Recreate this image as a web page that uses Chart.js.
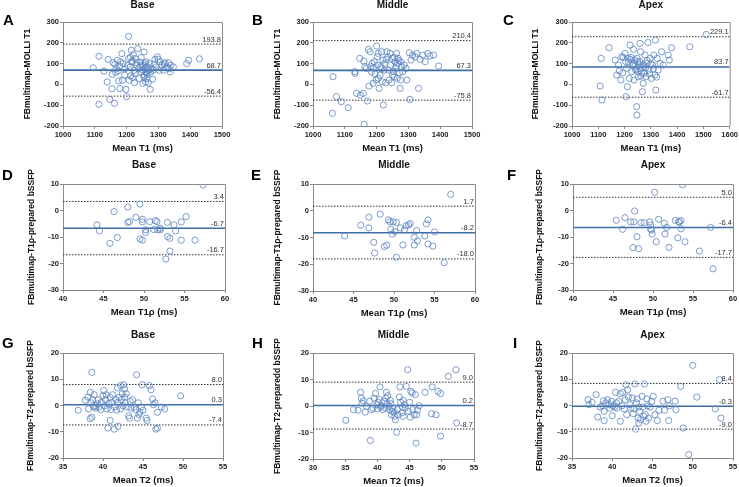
<!DOCTYPE html>
<html><head><meta charset="utf-8">
<script src="https://cdn.jsdelivr.net/npm/chart.js@4.4.0/dist/chart.umd.min.js"></script>
<style>
html,body{margin:0;padding:0;background:#fff;overflow:hidden;width:739px;height:487px;}
.cell{position:absolute;}
canvas{display:block;}
</style></head><body>
<div id="wrap"></div>
<script>
// ---------- DATA ----------
const panelLetters = ['A','B','C','D','E','F','G','H','I'];
const panelTitles = ['Base','Middle','Apex','Base','Middle','Apex','Base','Middle','Apex'];
const xAxisTitles = ['Mean T1 (ms)','Mean T1 (ms)','Mean T1 (ms)','Mean T1\u03c1 (ms)','Mean T1\u03c1 (ms)','Mean T1\u03c1 (ms)','Mean T2 (ms)','Mean T2 (ms)','Mean T2 (ms)'];
const yAxisTitles = ['FBmultimap-MOLLI T1','FBmultimap-MOLLI T1','FBmultimap-MOLLI T1',
  'FBmultimap-T1\u03c1-prepared bSSFP','FBmultimap-T1\u03c1-prepared bSSFP','FBmultimap-T1\u03c1-prepared bSSFP',
  'FBmultimap-T2-prepared bSSFP','FBmultimap-T2-preparedd bSSFP','FBmultimap-T2-prepared bSSFP'];
const xMin = [1000,1000,1000,40,40,40,35,30,35];
const xMax = [1500,1500,1600,60,60,60,55,55,55];
const xStep = [100,100,100,5,5,5,5,5,5];
const yMin = [-200,-200,-200,-30,-30,-30,-20,-20,-20];
const yMax = [300,300,300,10,10,10,20,20,20];
const yStep = [100,100,100,10,10,10,10,10,10];
const meanDiff = [68.7,67.3,83.7,-6.7,-8.2,-6.4,0.3,0.2,-0.3];
const upperLoA = [193.8,210.4,229.1,3.4,1.7,5.0,8.0,9.0,8.4];
const lowerLoA = [-56.4,-75.8,-61.7,-16.7,-18.0,-17.7,-7.4,-8.7,-9.0];

const t1BasePts = [[1095,80],[1113,-96],[1113,135],[1129,64],[1139,12],[1142,120],[1147,-72],[1154,-21],[1155,48],[1158,104],[1162,-91],[1163,96],[1168,76],[1171,116],[1174,65],[1175,17],[1179,-20],[1181,108],[1185,148],[1187,20],[1189,100],[1194,44],[1198,-24],[1200,-59],[1203,91],[1206,231],[1206,124],[1208,20],[1211,84],[1213,41],[1215,164],[1217,108],[1219,33],[1221,143],[1223,68],[1225,8],[1227,124],[1232,92],[1235,172],[1238,76],[1240,28],[1242,108],[1246,129],[1247,60],[1251,4],[1253,92],[1255,156],[1256,44],[1258,76],[1260,12],[1261,108],[1263,56],[1264,28],[1266,84],[1268,8],[1272,100],[1274,-24],[1276,60],[1279,76],[1282,25],[1284,68],[1287,97],[1289,120],[1293,84],[1297,132],[1303,68],[1305,108],[1311,92],[1316,68],[1321,104],[1326,84],[1332,104],[1337,60],[1339,92],[1347,84],[1389,100],[1395,116],[1429,123],[1250,70],[1255,35],[1258,100],[1262,85],[1265,48],[1260,62],[1244,90],[1230,105],[1226,52],[1270,70],[1212,130],[1218,112],[1300,120],[1318,98],[1335,75],[1195,75],[1178,88],[1166,58]];
const t1MiddlePts = [[1063,37],[1061,-139],[1074,-59],[1089,-83],[1111,-112],[1132,61],[1132,53],[1137,-43],[1147,125],[1149,-51],[1158,-43],[1161,-192],[1160,112],[1163,85],[1168,77],[1171,-80],[1174,168],[1176,-8],[1179,157],[1182,85],[1184,61],[1186,101],[1189,5],[1193,109],[1195,50],[1198,21],[1200,184],[1202,133],[1203,93],[1205,149],[1208,-19],[1211,45],[1213,85],[1216,157],[1218,13],[1220,117],[1221,-99],[1224,69],[1226,101],[1228,8],[1232,157],[1235,133],[1237,69],[1239,21],[1242,149],[1244,93],[1247,8],[1249,125],[1253,61],[1255,37],[1258,109],[1260,77],[1263,149],[1265,29],[1266,101],[1268,125],[1272,56],[1274,-19],[1275,21],[1277,109],[1279,85],[1282,61],[1287,93],[1292,77],[1295,21],[1303,152],[1305,-72],[1308,117],[1313,141],[1321,133],[1326,149],[1332,-19],[1337,120],[1345,141],[1353,109],[1361,149],[1368,136],[1379,141],[1395,88],[1190,80],[1205,30],[1250,45],[1262,90],[1270,115],[1230,120],[1215,75],[1256,130]];
const t1ApexPts = [[1114,-75],[1111,125],[1107,-8],[1141,176],[1164,117],[1170,45],[1177,93],[1186,21],[1189,133],[1193,56],[1202,149],[1205,-59],[1208,77],[1211,-11],[1215,109],[1218,29],[1221,189],[1223,120],[1227,61],[1231,93],[1234,168],[1236,21],[1240,117],[1242,69],[1246,-107],[1247,-147],[1250,109],[1253,37],[1256,93],[1259,197],[1261,157],[1265,53],[1268,-35],[1271,5],[1274,85],[1278,141],[1282,37],[1284,101],[1289,201],[1292,69],[1297,125],[1302,29],[1307,93],[1312,141],[1316,45],[1318,213],[1319,-27],[1324,125],[1328,69],[1335,101],[1341,157],[1347,93],[1366,141],[1370,117],[1379,176],[1448,181],[1511,240],[1240,90],[1245,75],[1252,60],[1258,110],[1262,40],[1270,95],[1276,55],[1280,80],[1286,115],[1295,50],[1300,100],[1225,130],[1232,100],[1213,125],[1204,110],[1180,65],[1195,130],[1260,75],[1248,125],[1310,75],[1322,35]];
const t1rhoBasePts = [[44.2,-5.4],[44.5,-7.7],[45.8,-12.4],[46.3,-0.4],[46.7,-10.2],[48.0,1.3],[48.0,-4.5],[48.2,-4.2],[49.0,-2.6],[49.5,2.4],[49.5,-10.7],[49.8,-11.2],[49.8,-3.3],[49.8,-4.3],[50.2,-7.3],[50.2,-8.3],[50.7,-4.2],[51.2,-7.2],[51.4,-3.8],[51.6,-4.2],[51.7,-7.3],[52.0,-7.3],[52.0,-6.7],[52.7,-18.3],[52.9,-4.5],[52.9,-9.8],[53.2,-10.5],[53.2,-15.3],[53.7,-5.4],[53.9,-7.7],[54.6,-4.3],[54.6,-11.2],[55.2,-2.3],[56.3,-11.2],[57.3,9.6]];
const t1rhoMiddlePts = [[43.9,-9.4],[45.9,-5.4],[46.9,-2.4],[46.9,-6.4],[47.5,-11.8],[47.6,-15.8],[48.3,-1.3],[48.8,-13.4],[49.1,-12.9],[49.3,-3.4],[49.5,-4.1],[49.6,-6.9],[49.8,-8.7],[49.9,-4.1],[50.1,-7.8],[50.3,-4.4],[50.3,-17.4],[50.8,-6.4],[51.1,-12.8],[51.3,-7.1],[51.5,-5.6],[51.8,-5.3],[52.0,-4.8],[52.5,-9.9],[52.5,-12.8],[52.8,-7.4],[52.9,-11.3],[53.8,-9.4],[54.0,-4.9],[54.2,-3.4],[54.2,-12.4],[54.8,-13.2],[55.0,-7.9],[56.2,-19.4],[57.0,6.1]];
const t1rhoApexPts = [[45.4,-3.7],[46.2,-7.1],[46.5,-2.7],[47.2,-4.3],[47.5,-14.0],[47.6,-4.3],[47.7,-0.2],[48.0,-9.9],[48.2,-14.4],[48.5,-4.6],[48.9,-4.6],[49.6,-4.3],[49.7,-5.5],[49.7,-7.0],[49.8,-7.4],[49.9,-8.9],[50.2,6.9],[50.4,-11.8],[50.7,-3.3],[51.4,-4.8],[51.5,-8.9],[51.7,-6.4],[52.0,-13.9],[52.8,-3.7],[53.1,-10.3],[53.2,-4.3],[53.3,-4.3],[53.5,-3.8],[53.5,-6.9],[53.7,9.7],[54.0,-11.8],[55.8,-15.3],[57.2,-6.4],[57.5,-22.0]];
const t2BasePts = [[36.9,-1.8],[37.8,2.0],[38.1,3.2],[38.2,-1.3],[38.4,5.0],[38.4,-5.0],[38.5,1.0],[38.6,12.6],[38.6,-4.5],[38.7,2.2],[38.8,-0.6],[38.9,4.1],[39.0,-0.1],[39.1,-1.0],[39.3,0.7],[39.4,2.2],[39.5,-0.6],[39.7,-1.6],[39.8,1.2],[40.0,3.7],[40.1,5.7],[40.2,-0.1],[40.3,2.2],[40.4,4.1],[40.5,-1.3],[40.6,-8.6],[40.7,0.7],[40.9,3.1],[40.9,-5.7],[41.0,-1.6],[41.1,1.2],[41.2,4.1],[41.4,-9.0],[41.4,-0.6],[41.6,2.2],[41.7,-1.8],[41.8,6.7],[41.9,-7.9],[41.9,1.2],[42.0,3.1],[42.2,-1.3],[42.2,7.6],[42.3,2.2],[42.4,4.5],[42.5,-0.1],[42.6,7.9],[42.7,3.2],[42.7,6.3],[42.8,1.0],[42.9,4.5],[43.0,-0.6],[43.2,-3.9],[43.3,-4.8],[43.4,1.6],[43.5,-1.0],[43.7,2.2],[43.9,-0.6],[44.1,-1.6],[44.2,11.7],[44.3,-4.8],[44.4,1.0],[44.5,-3.5],[44.6,-2.5],[44.8,-0.6],[44.9,7.9],[45.0,-1.8],[45.4,-4.8],[45.5,-5.7],[45.8,7.6],[46.0,6.0],[46.2,2.5],[46.3,0.3],[46.5,1.0],[46.6,-9.0],[46.8,-8.6],[46.8,-2.6],[47.3,-0.6],[47.7,-1.3],[49.7,3.7]];
const t2MiddlePts = [[35.1,-5.4],[36.3,-1.4],[37.0,-1.6],[37.4,5.2],[37.5,3.0],[37.6,1.1],[37.8,2.0],[38.1,-2.3],[38.3,-0.1],[38.8,1.8],[38.9,-13.0],[39.1,-1.4],[39.3,-0.8],[39.5,3.0],[39.7,4.7],[39.9,0.5],[40.0,-1.1],[40.1,1.4],[40.3,2.4],[40.4,7.2],[40.5,-0.4],[40.6,0.1],[40.8,-1.4],[41.0,1.8],[41.2,-0.8],[41.3,3.0],[41.4,5.2],[41.5,0.9],[41.6,3.9],[41.8,-0.1],[41.9,-1.4],[42.0,2.1],[42.1,0.9],[42.2,-3.3],[42.3,-2.0],[42.4,-0.8],[42.6,-2.4],[42.7,-3.9],[42.8,-5.2],[43.0,-9.9],[43.1,-1.4],[43.2,-3.3],[43.4,3.4],[43.5,7.2],[43.6,1.4],[43.8,-2.6],[43.9,-0.4],[44.0,2.1],[44.0,-3.9],[44.2,0.5],[44.3,-0.8],[44.5,7.4],[44.7,13.7],[44.8,-2.0],[45.0,1.4],[45.1,-4.2],[45.2,5.5],[45.4,4.9],[45.5,-1.4],[45.7,-3.3],[45.9,4.3],[46.0,-14.0],[46.1,-3.3],[46.2,-1.6],[46.5,0.1],[47.4,5.2],[48.4,-2.9],[48.5,7.2],[49.1,-3.3],[49.4,5.5],[49.8,4.7],[49.8,-11.4],[51.0,11.2],[52.2,13.7],[52.3,-6.4]];
const t2ApexPts = [[37.0,2.2],[37.1,0.3],[37.5,1.2],[38.0,4.1],[38.2,-4.4],[38.5,-0.6],[38.8,-0.1],[38.9,1.8],[39.0,-2.2],[39.0,-5.8],[39.2,1.0],[39.4,2.2],[39.6,0.3],[39.7,-1.0],[39.9,1.6],[40.0,-3.9],[40.1,-0.1],[40.3,-0.6],[40.4,5.0],[40.5,1.0],[40.6,-1.0],[40.8,1.6],[41.0,-6.0],[41.0,4.5],[41.2,-0.1],[41.3,5.0],[41.5,-1.3],[41.6,2.2],[41.7,7.9],[41.8,-3.5],[41.9,6.0],[42.0,3.2],[42.2,0.3],[42.3,-1.0],[42.5,2.9],[42.6,-3.1],[42.7,-1.3],[42.8,8.2],[42.9,-9.0],[43.0,1.0],[43.1,2.5],[43.2,-4.8],[43.3,-0.6],[43.3,-6.7],[43.4,-2.2],[43.5,-5.4],[43.7,3.5],[43.8,-0.6],[43.9,-4.1],[44.0,8.2],[44.1,-3.5],[44.2,-6.0],[44.3,2.5],[44.4,-0.1],[44.5,-4.8],[44.7,-0.6],[44.9,1.6],[45.1,3.5],[45.3,-3.5],[45.6,-5.7],[45.8,-1.8],[46.3,1.6],[46.5,-1.8],[46.9,2.2],[47.0,-5.7],[47.1,-0.1],[47.8,1.7],[47.9,-1.6],[48.5,7.3],[48.8,-8.6],[49.5,-18.7],[50.0,15.3],[50.5,3.2],[52.8,-1.3],[53.3,9.8],[53.5,-4.8]];
const panelPoints = [t1BasePts,t1MiddlePts,t1ApexPts,t1rhoBasePts,t1rhoMiddlePts,t1rhoApexPts,t2BasePts,t2MiddlePts,t2ApexPts];

// ---------- LAYOUT (positions / sizes only) ----------
const cellX = [0,245,490, 0,245,490, 0,245,490];
const cellW = [245,245,249, 245,245,249, 245,245,249];
const cellY = [0,0,0, 160,160,160, 330,330,330];
const areaL = [63,313,572, 63,313,573, 63,313,572];
const areaR = [222,472,730, 225,475,733, 223,474,733];
const areaT = [22,22,22, 184,184,184, 353,353,353];
const areaB = [126,126,126, 290,291,290, 458,459,458];
const yTitleX = [28,278,536, 32,278,540, 31,278,540];
const letterX = [3,252,503, 2,251,507, 2,252,513];
const letterBase = [25,25,25, 180,180,180, 348,348,348];

const FONT = "'Liberation Sans', Arial, sans-serif";
const AXIS = '#8a8a8a';
const PT = 'rgba(90,132,192,0.8)';
const MEANC = '#3e6ea6';

const decor = {
  id: 'decor',
  afterDraw(chart, args, o) {
    const {ctx, chartArea: a} = chart;
    ctx.save();
    ctx.strokeStyle = AXIS; ctx.lineWidth = 1;
    ctx.beginPath();
    ctx.moveTo(a.left, a.top + 0.5); ctx.lineTo(a.right + 0.5, a.top + 0.5);
    ctx.lineTo(a.right + 0.5, a.bottom);
    ctx.stroke();
    const ys = chart.scales.y;
    ctx.font = '7.5px ' + FONT; ctx.fillStyle = '#333';
    ctx.textAlign = 'right'; ctx.textBaseline = 'alphabetic';
    o.values.forEach(v => {
      ctx.fillText(v.toFixed(1), a.right - 1, ys.getPixelForValue(v) - 2.5);
    });
    ctx.font = 'bold 15px ' + FONT; ctx.fillStyle = '#000'; ctx.textAlign = 'left';
    ctx.fillText(o.letter, o.lx, o.ly);
    ctx.restore();
  }
};

const wrap = document.getElementById('wrap');
for (let i = 0; i < 9; i++) {
  const cx = cellX[i], cy = cellY[i], cw = cellW[i];
  const ch = Math.round(areaB[i] + 28.4 - cy);
  const div = document.createElement('div');
  div.className = 'cell';
  div.style.left = cx + 'px'; div.style.top = cy + 'px';
  div.style.width = cw + 'px'; div.style.height = ch + 'px';
  const cv = document.createElement('canvas');
  cv.width = cw; cv.height = ch;
  cv.style.width = cw + 'px'; cv.style.height = ch + 'px';
  div.appendChild(cv); wrap.appendChild(div);

  const yW = areaL[i] - cx;
  const xH = cy + ch - areaB[i];
  const titleH = areaT[i] - cy;
  const padR = cx + cw - areaR[i];
  const lines = [meanDiff[i], upperLoA[i], lowerLoA[i]];
  const hl = (v) => [{x: xMin[i], y: v}, {x: xMax[i], y: v}];
  const plain = (v) => String(v);

  new Chart(cv, {
    type: 'scatter',
    data: {
      datasets: [
        { data: panelPoints[i].map(p => ({x: p[0], y: p[1]})), pointRadius: 3.1, pointHoverRadius: 3.1,
          pointBorderWidth: 1, borderColor: PT, backgroundColor: 'rgba(0,0,0,0)', pointBackgroundColor: 'rgba(0,0,0,0)' },
        { type: 'line', data: hl(meanDiff[i]), borderColor: MEANC, borderWidth: 1.6, pointRadius: 0, fill: false },
        { type: 'line', data: hl(upperLoA[i]), borderColor: '#333', borderWidth: 1, borderDash: [1.5, 1.5], pointRadius: 0, fill: false },
        { type: 'line', data: hl(lowerLoA[i]), borderColor: '#333', borderWidth: 1, borderDash: [1.5, 1.5], pointRadius: 0, fill: false }
      ]
    },
    options: {
      responsive: false, animation: false, devicePixelRatio: 1,
      layout: { padding: { left: 0, right: padR, top: 0, bottom: 0 } },
      plugins: {
        legend: { display: false }, tooltip: { enabled: false },
        title: { display: true, text: panelTitles[i], fullSize: false, color: '#111',
          font: { family: FONT, size: 10, weight: 'bold', lineHeight: 1.1 },
          padding: { top: 0, bottom: titleH - 11 } },
        decor: { values: lines, letter: panelLetters[i], lx: letterX[i] - cx, ly: letterBase[i] - cy }
      },
      scales: {
        x: {
          type: 'linear', position: 'bottom', min: xMin[i], max: xMax[i],
          afterFit: (s) => { s.height = xH; },
          ticks: { stepSize: xStep[i], autoSkip: false, maxRotation: 0, padding: 1, color: '#222',
            callback: plain, font: { family: FONT, size: 7.5, weight: 'bold' } },
          grid: { display: true, drawOnChartArea: false, drawTicks: true, tickLength: 3, color: AXIS },
          border: { display: true, color: AXIS, width: 1 },
          title: { display: true, text: xAxisTitles[i], color: '#111', padding: { top: 0, bottom: 0 },
            font: { family: FONT, size: 9.5, weight: 'bold', lineHeight: 1.2 } }
        },
        y: {
          type: 'linear', position: 'left', min: yMin[i], max: yMax[i],
          afterFit: (s) => { s.width = yW; },
          ticks: { stepSize: yStep[i], autoSkip: false, padding: 1, color: '#222',
            callback: plain, font: { family: FONT, size: 7.5, weight: 'bold' } },
          grid: { display: true, drawOnChartArea: false, drawTicks: true, tickLength: 3, color: AXIS },
          border: { display: true, color: AXIS, width: 1 },
          title: { display: true, text: yAxisTitles[i], color: '#111',
            padding: { top: yTitleX[i] - cx - 5.1, bottom: 0 },
            font: { family: FONT, size: 8.5, weight: 'bold', lineHeight: 1.2 } }
        }
      }
    },
    plugins: [decor]
  });
}
</script>
</body></html>
